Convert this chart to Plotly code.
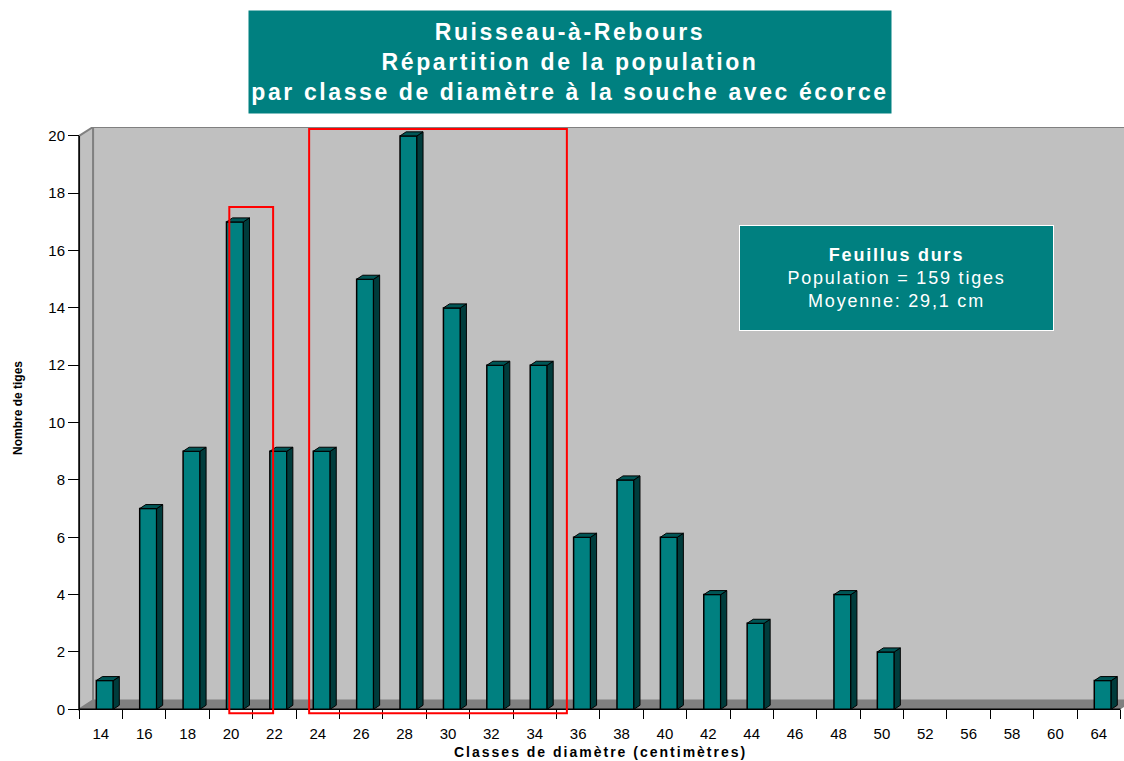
import plotly.graph_objects as go

# data
classes = ["14", "16", "18", "20", "22", "24", "26", "28", "30", "32", "34", "36",
           "38", "40", "42", "44", "46", "48", "50", "52", "56", "58", "60", "64"]
tiges = [1, 7, 9, 17, 9, 9, 15, 20, 14, 12, 12, 6, 8, 6, 4, 3, 0, 4, 2, 0, 0, 0, 0, 1]
y_ticks = list(range(0, 21, 2))

TEAL = "#008080"
SIDE = "#003c3c"
TOP = "#005656"
WALL = "#c0c0c0"
FLOOR = "#808080"
FONT = "Liberation Sans, Arial"

W, H = 1124, 761
ML, MR, MT, MB = 77, 0, 127, 46
XR = [-0.55, 23.58]
YR = [-0.2, 20.31]

# depth of the pseudo 3D box and of the bars (in axis units)
WX, WY = 0.32, 0.31
BX, BY = 0.14, 0.14
BAR_W, BAR_SHIFT = 0.39, 0.09


def paper_x(px):
    return (px - ML) / (W - ML - MR)


def paper_y(py):
    return (H - MB - py) / (H - MT - MB)


idx = [i for i, v in enumerate(tiges) if v > 0]
vals = [tiges[i] for i in idx]
xc = [i + BAR_SHIFT for i in idx]

fig = go.Figure()
fig.add_trace(go.Bar(x=xc, y=vals, width=BAR_W,
                     marker=dict(color=TEAL, line=dict(color="black", width=1.5)),
                     hoverinfo="skip"))

# side and top faces of each bar
sx, sy, tx, ty = [], [], [], []
for x, v in zip(xc, vals):
    xl, xr = x - BAR_W / 2, x + BAR_W / 2
    sx += [xr, xr + BX, xr + BX, xr, xr, None]
    sy += [0, BY, v + BY, v, 0, None]
    tx += [xl, xl + BX, xr + BX, xr, xl, None]
    ty += [v, v + BY, v + BY, v, v, None]
fig.add_trace(go.Scatter(x=sx, y=sy, mode="lines", fill="toself", fillcolor=SIDE,
                         line=dict(color="black", width=1), hoverinfo="skip"))
fig.add_trace(go.Scatter(x=tx, y=ty, mode="lines", fill="toself", fillcolor=TOP,
                         line=dict(color="black", width=1), hoverinfo="skip"))

n = len(classes)
x0, x1 = -0.5, n - 0.5
shapes = [
    # back wall
    dict(type="rect", x0=x0 + WX, x1=x1 + WX + 1, y0=WY, y1=20 + WY,
         fillcolor=WALL, line=dict(color=FLOOR, width=2), layer="below"),
    # left wall
    dict(type="path", path=f"M{x0},0 L{x0},20 L{x0 + WX},{20 + WY} L{x0 + WX},{WY} Z",
         fillcolor=WALL, line=dict(color=FLOOR, width=2), layer="below"),
    # floor
    dict(type="path", path=f"M{x0},0 L{x0 + WX},{WY} L{x1 + WX},{WY} L{x1},0 Z",
         fillcolor=FLOOR, line=dict(width=0), layer="below"),
    # axis lines
    dict(type="line", x0=x0, x1=x0, y0=0, y1=20, line=dict(color="black", width=1.5), layer="below"),
    dict(type="line", x0=x0, x1=x1, y0=0, y1=0, line=dict(color="black", width=1.5), layer="below"),
    # red highlight boxes
    dict(type="rect", x0=2.96, x1=3.97, y0=-0.14, y1=17.52,
         line=dict(color="#ff0000", width=2), layer="above"),
    dict(type="rect", x0=4.80, x1=10.74, y0=-0.14, y1=20.24,
         line=dict(color="#ff0000", width=2), layer="above"),
]

annotations = [
    dict(text="<b>Ruisseau-à-Rebours<br>Répartition de la population<br>"
              "par classe de diamètre à la souche avec écorce</b>",
         x=paper_x(570), y=paper_y(62), width=640, height=100, bgcolor=TEAL,
         font=dict(family=FONT, size=23, color="white")),
    dict(text="<b>Feuillus durs</b><br>Population = 159 tiges<br>Moyenne: 29,1 cm",
         x=paper_x(896.5), y=paper_y(278), width=313, height=104, bgcolor=TEAL,
         bordercolor="white", borderwidth=1, borderpad=0,
         font=dict(family=FONT, size=18, color="white")),
    dict(text="<b>Nombre de tiges</b>", textangle=-90,
         x=paper_x(18), y=paper_y(408),
         font=dict(family=FONT, size=12, color="black")),
    dict(text="<b>Classes de diamètre (centimètres)</b>",
         x=paper_x(600), y=paper_y(752),
         font=dict(family=FONT, size=14, color="black")),
]
for a in annotations:
    a.update(xref="paper", yref="paper", xanchor="center", yanchor="middle", showarrow=False)

fig.update_layout(
    width=W, height=H,
    margin=dict(l=ML, r=MR, t=MT, b=MB),
    paper_bgcolor="white", plot_bgcolor="white",
    showlegend=False, shapes=shapes, annotations=annotations,
    font=dict(family=FONT, color="black"),
    xaxis=dict(range=XR, showgrid=False, zeroline=False, showline=False, automargin=False,
               tickmode="array", tickvals=list(range(n)), ticktext=classes,
               ticks="", tickfont=dict(size=15), ticklabelstandoff=14,
               anchor="free", position=paper_y(709),
               minor=dict(tickmode="array", tickvals=[x0 + k for k in range(n + 1)],
                          ticks="outside", ticklen=9, tickcolor="black", tickwidth=1)),
    yaxis=dict(range=YR, showgrid=False, zeroline=False, showline=False, automargin=False,
               tickmode="array", tickvals=y_ticks, ticks="outside", ticklen=11,
               tickcolor="black", tickfont=dict(size=15),
               anchor="free", position=paper_x(79)),
)

# page without the default body margin; the original text boxes use wide letter spacing
post_js = """
document.body.style.margin = '0';
var sp = {0: '2.6px', 1: '1.8px', 3: '2px'};
Object.keys(sp).forEach(function (k) {
  var t = document.querySelector('.annotation[data-index="' + k + '"] text');
  if (t) { t.style.letterSpacing = sp[k]; }
});
"""

fig.write_html("out.html", post_script=post_js, config={"displayModeBar": False})
